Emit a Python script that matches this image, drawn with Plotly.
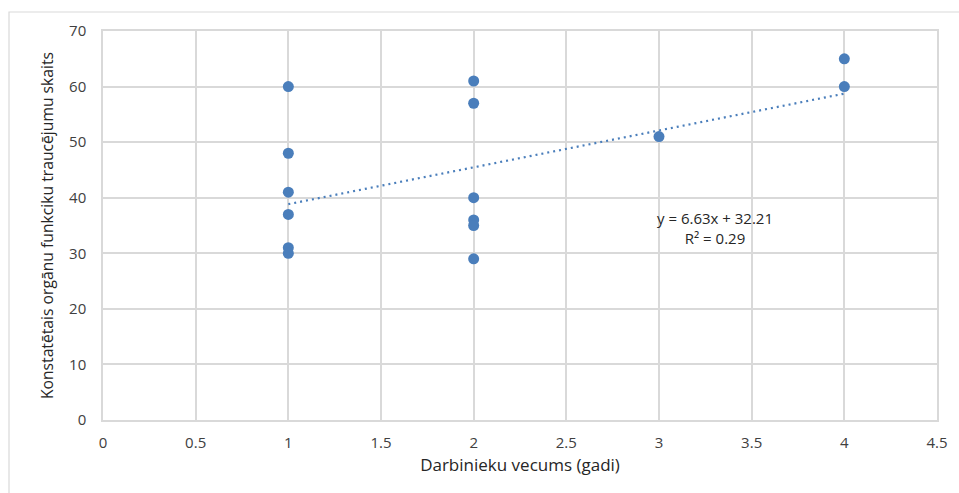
import plotly.graph_objects as go

age = [1, 1, 1, 1, 1, 1, 2, 2, 2, 2, 2, 2, 3, 4, 4]
disorders = [60, 48, 41, 37, 31, 30, 61, 57, 40, 36, 35, 29, 51, 65, 60]
slope = 6.63
intercept = 32.21
r2 = 0.29
x_title = "Darbinieku vecums (gadi)"
y_title = "Konstatētais orgānu funkciku traucējumu skaits"

blue = "#4A7EBB"
grid = "#D9D9D9"
font = "Open Sans"

fig = go.Figure()
tx = [min(age), max(age)]
fig.add_trace(go.Scatter(x=tx, y=[slope * v + intercept for v in tx], mode="lines",
                         line=dict(color=blue, width=2.2, dash="2px,4px"), hoverinfo="skip"))
fig.add_trace(go.Scatter(x=age, y=disorders, mode="markers",
                         marker=dict(color=blue, size=11)))

fig.add_annotation(x=3.3, y=34.6, xref="x", yref="y",
                   text=f"y = {slope}x + {intercept}<br>R² = {r2}",
                   showarrow=False, align="center",
                   font=dict(family=font, size=15, color="#262626"))

fig.add_shape(type="rect", xref="paper", yref="paper", x0=-0.1127, x1=1.2, y0=-0.4, y1=1.0488,
              line=dict(color="#D9D9D9", width=1.2), fillcolor="rgba(0,0,0,0)", layer="below")

fig.update_layout(
    width=959, height=493,
    margin=dict(l=103, r=22, t=31, b=73),
    paper_bgcolor="white", plot_bgcolor="white",
    showlegend=False,
    font=dict(family=font, size=15, color="#404040"),
    xaxis=dict(range=[0, 4.5], dtick=0.5, tick0=0, showgrid=True, gridcolor=grid, gridwidth=1.5,
               zeroline=False, showline=True, linecolor=grid, linewidth=1.5, mirror=True,
               ticks="", ticklabelstandoff=8,
               title=dict(text=x_title, font=dict(family=font, size=17, color="#262626"), standoff=8)),
    yaxis=dict(range=[0, 70], dtick=10, showgrid=True, gridcolor=grid, gridwidth=1.5,
               zeroline=False, showline=True, linecolor=grid, linewidth=1.5, mirror=True,
               ticks="", ticklabelstandoff=12,
               title=dict(text=y_title, font=dict(family=font, size=15.7, color="#262626"), standoff=12)),
)

fig.write_html("out.html")
